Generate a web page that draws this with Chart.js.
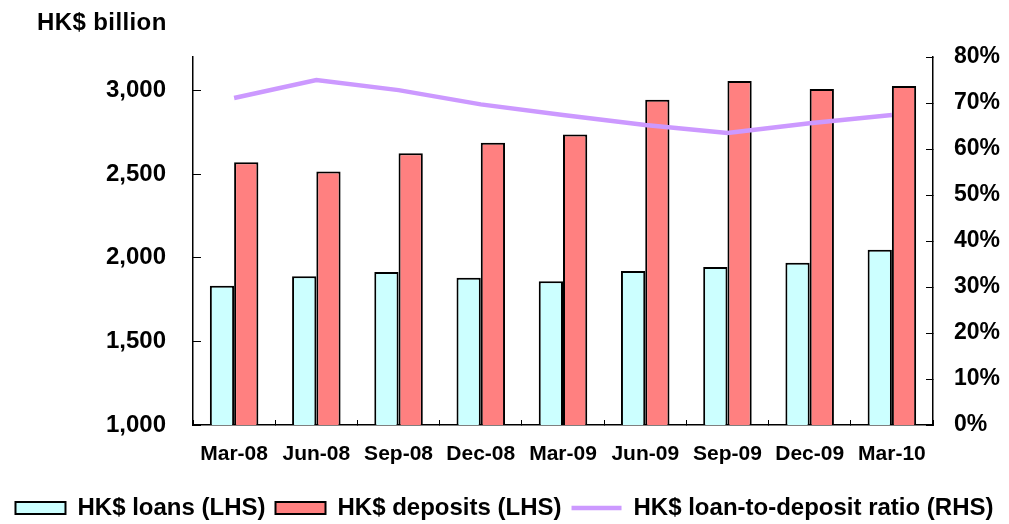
<!DOCTYPE html>
<html>
<head>
<meta charset="utf-8">
<script src="https://cdn.jsdelivr.net/npm/chart.js@4.4.1/dist/chart.umd.min.js"></script>
<style>
  html, body { margin: 0; padding: 0; background: #fff; }
  #wrap { position: relative; width: 1009px; height: 524px; overflow: hidden; }
  #unit {
    position: absolute; left: 37px; top: 8px;
    font: bold 24px "Liberation Sans", Arial, sans-serif;
    letter-spacing: 0.4px; color: #000;
  }
</style>
</head>
<body>
<div id="wrap">
  <div id="unit">HK$ billion</div>
  <canvas id="chart" width="1009" height="524"></canvas>
</div>
<script>
// quarter-end labels
const quarters = ["Mar-08", "Jun-08", "Sep-08", "Dec-08", "Mar-09", "Jun-09", "Sep-09", "Dec-09", "Mar-10"];
// HK$ billion (left axis)
const loans = [1833, 1889, 1915, 1881, 1859, 1921, 1945, 1970, 2048];
const deposits = [2571, 2516, 2625, 2688, 2736, 2945, 3056, 3008, 3026];
// % (right axis)
const ratio = [71.1, 75.0, 72.8, 69.7, 67.4, 65.2, 63.5, 65.6, 67.4];
const leftTicks = [1000, 1500, 2000, 2500, 3000];

const FONT = '"Liberation Sans", Arial, sans-serif';

const ctx = document.getElementById("chart").getContext("2d");
new Chart(ctx, {
  type: "bar",
  data: {
    labels: quarters,
    datasets: [
      {
        label: "HK$ loans (LHS)",
        data: loans,
        backgroundColor: "#ccffff",
        borderColor: "#000",
        borderWidth: 2,
        yAxisID: "y",
        order: 1,
      },
      {
        label: "HK$ deposits (LHS)",
        data: deposits,
        backgroundColor: "#ff8080",
        borderColor: "#000",
        borderWidth: 2,
        yAxisID: "y",
        order: 1,
      },
      {
        type: "line",
        label: "HK$ loan-to-deposit ratio (RHS)",
        data: ratio,
        borderColor: "#cc99ff",
        backgroundColor: "#cc99ff",
        borderWidth: 4.5,
        pointRadius: 0,
        tension: 0,
        yAxisID: "y2",
        order: 0,
      },
    ],
  },
  options: {
    responsive: false,
    animation: false,
    layout: { padding: { top: 57, left: 0, right: 0, bottom: -6 } },
    datasets: {
      bar: { categoryPercentage: 0.59, barPercentage: 1 },
    },
    plugins: {
      tooltip: { enabled: false },
      title: { display: false },
      legend: {
        display: true,
        position: "bottom",
        labels: {
          color: "#000",
          font: { family: FONT, size: 24, weight: "bold" },
          padding: 10,
          boxHeight: 12,
          usePointStyle: true,
          pointStyleWidth: 50,
          sort: (a, b) => a.datasetIndex - b.datasetIndex,
          generateLabels: function (chart) {
            const items = Chart.defaults.plugins.legend.labels.generateLabels(chart);
            items.forEach((it) => {
              it.pointStyle = it.datasetIndex === 2 ? "line" : "rect";
            });
            return items;
          },
        },
      },
    },
    scales: {
      x: {
        offset: true,
        grid: {
          offset: true,
          drawOnChartArea: false,
          drawTicks: true,
          tickLength: -5,
          color: "#000",
        },
        border: { color: "#000", width: 1.5 },
        ticks: {
          color: "#000",
          font: { family: FONT, size: 21, weight: "bold" },
          padding: 22,
          maxRotation: 0,
          autoSkip: false,
        },
        afterFit: (scale) => { scale.height = 61; },
      },
      y: {
        position: "left",
        min: 1000,
        max: 3200,
        grid: {
          drawOnChartArea: false,
          drawTicks: true,
          tickLength: -8,
          color: "#000",
        },
        border: { color: "#000", width: 1.5 },
        ticks: {
          autoSkip: false,
          color: "#000",
          font: { family: FONT, size: 24, weight: "bold" },
          padding: 35,
          callback: (v) => v.toLocaleString("en-US"),
        },
        afterBuildTicks: (scale) => {
          scale.ticks = leftTicks.map((v) => ({ value: v }));
        },
        afterFit: (scale) => { scale.width = 193; },
      },
      y2: {
        position: "right",
        min: 0,
        max: 80,
        grid: {
          drawOnChartArea: false,
          drawTicks: true,
          tickLength: -7,
          color: "#000",
        },
        border: { color: "#000", width: 1.5 },
        ticks: {
          autoSkip: false,
          stepSize: 10,
          color: "#000",
          font: { family: FONT, size: 23, weight: "bold" },
          padding: 28,
          callback: (v) => v + "%",
        },
        afterFit: (scale) => { scale.width = 76; },
      },
    },
  },
});
</script>
</body>
</html>
